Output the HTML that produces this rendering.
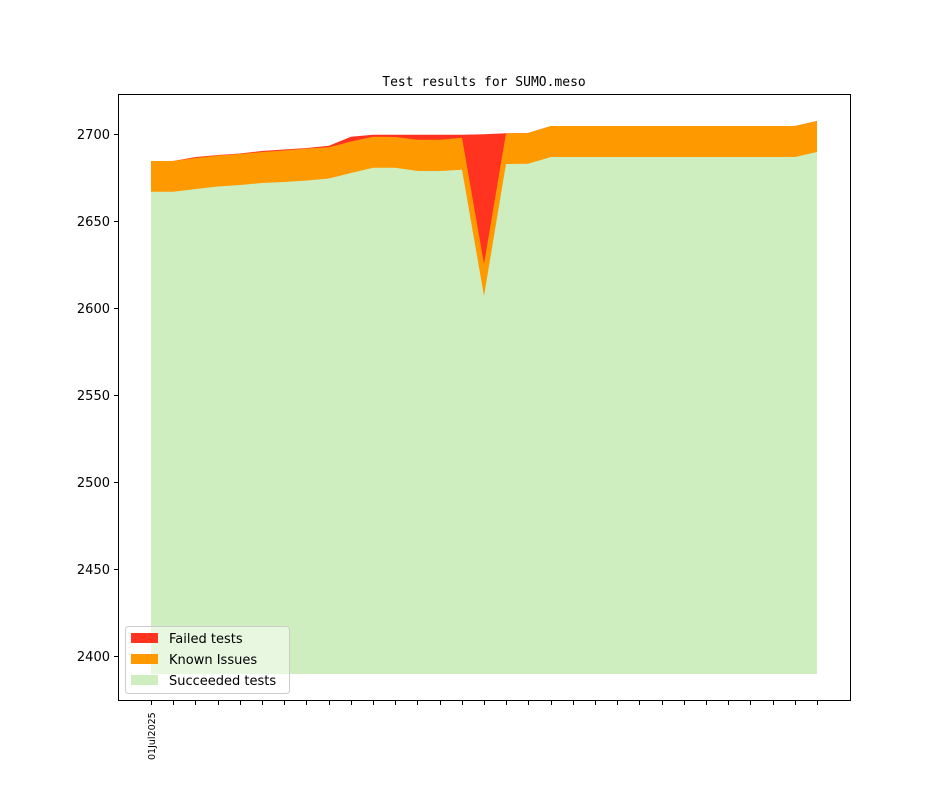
<!DOCTYPE html>
<html><head><meta charset="utf-8"><style>body{margin:0;background:#fff}</style></head>
<body>
<svg width="944" height="787" xmlns="http://www.w3.org/2000/svg" font-family="DejaVu Sans, Liberation Sans, sans-serif">
<rect width="944" height="787" fill="#fff"/>
<text x="484" y="86" text-anchor="middle" font-family="DejaVu Sans Mono, Liberation Mono, monospace" font-size="13">Test results for SUMO.meso</text>
<polygon fill="#ff3320" points="151,674 151,161 173,161 196,157 218,155 240,153.5 262,151 284,149.5 307,148 329,145.7 351,136.7 373,134.7 395,134.7 418,134.7 440,134.7 462,134.7 484,134.3 506,133.3 528,133 551,126 795,126 817,121 817,674"/>
<polygon fill="#ff9900" points="151,674 151,161 173,161 196,158 218,155.5 240,154 262,152 284,150.5 307,148.5 329,147.3 351,141.5 373,136.7 395,137 418,139.7 440,139.7 462,137.7 484,264 506,133.3 528,133 551,126 795,126 817,121 817,674"/>
<polygon fill="#cfeec0" points="151,674 151,191.7 173,191.7 196,189 218,186.5 240,185 262,183 284,182 307,180.5 329,178.5 351,173 373,167.7 395,167.7 418,171 440,171 462,169.7 484,296 506,164 528,163.7 551,157 795,157 817,152 817,674"/>
<rect x="118.5" y="94.5" width="732" height="606" fill="none" stroke="#000" stroke-width="1"/>
<g stroke="#000" stroke-width="1">
<line x1="114" x2="118" y1="134.5" y2="134.5"/><line x1="114" x2="118" y1="221.5" y2="221.5"/><line x1="114" x2="118" y1="308.5" y2="308.5"/><line x1="114" x2="118" y1="395.5" y2="395.5"/><line x1="114" x2="118" y1="482.5" y2="482.5"/><line x1="114" x2="118" y1="569.5" y2="569.5"/><line x1="114" x2="118" y1="656.5" y2="656.5"/>
</g>
<g font-size="13" text-anchor="end">
<text x="110" y="139">2700</text><text x="110" y="226">2650</text><text x="110" y="313">2600</text><text x="110" y="400">2550</text><text x="110" y="487">2500</text><text x="110" y="574">2450</text><text x="110" y="661">2400</text>
</g>
<g stroke="#000" stroke-width="1" id="xt"></g>
<script>
var g=document.getElementById('xt');for(var i=0;i<31;i++){var x=Math.round(151+22.2*i)+0.5;var l=document.createElementNS('http://www.w3.org/2000/svg','line');l.setAttribute('x1',x);l.setAttribute('x2',x);l.setAttribute('y1',701);l.setAttribute('y2',705);g.appendChild(l);}
</script>
<text transform="translate(155,760) rotate(-90)" font-size="9.5">01Jul2025</text>
<rect x="125.5" y="626.5" width="164" height="67" rx="3" fill="#fff" fill-opacity="0.5" stroke="#ccc"/>
<rect x="131" y="633" width="27" height="10" fill="#ff3320"/>
<rect x="131" y="654" width="27" height="10" fill="#ff9900"/>
<rect x="131" y="675" width="27" height="10" fill="#cfeec0"/>
<g font-size="13"><text x="169" y="643">Failed tests</text><text x="169" y="664">Known Issues</text><text x="169" y="685">Succeeded tests</text></g>
</svg>
</body></html>
